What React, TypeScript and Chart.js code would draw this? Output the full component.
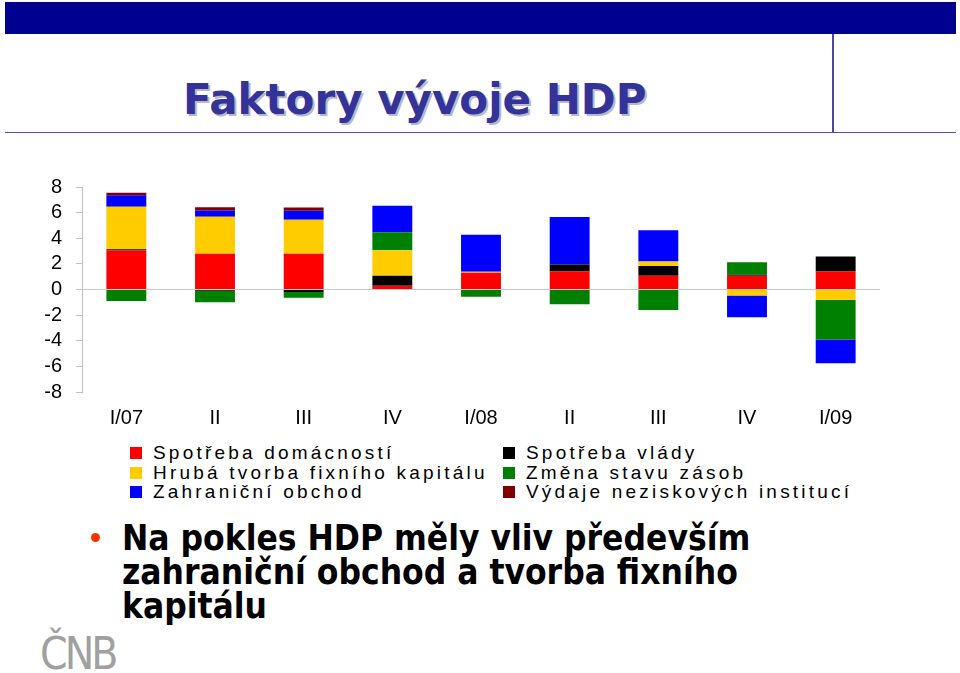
import React, { useEffect, useRef } from "react";
import { Chart, registerables } from "chart.js";

Chart.register(...registerables);

const categories = ["I/07", "II", "III", "IV", "I/08", "II", "III", "IV", "I/09"];
const householdConsumption = [3.05, 2.8, 2.8, 0.3, 1.3, 1.4, 1.07, 1.07, 1.4];
const governmentConsumption = [0.1, -0.1, -0.2, 0.77, 0, 0.56, 0.76, 0.08, 1.17];
const fixedCapital = [3.3, 2.87, 2.65, 2.0, 0.08, 0, 0.36, -0.46, -0.8];
const inventoryChange = [-0.9, -0.9, -0.45, 1.4, -0.56, -1.15, -1.6, 0.97, -3.1];
const foreignTrade = [0.9, 0.5, 0.7, 2.06, 2.9, 3.7, 2.44, -1.7, -1.86];
const nonProfitSpending = [0.2, 0.25, 0.25, 0, 0, 0, 0, 0, 0];

const yMin = -8;
const yMax = 8;
const yStep = 2;

const legendLeft = [
  { label: "Spotřeba domácností", color: "#FF0000" },
  { label: "Hrubá tvorba fixního kapitálu", color: "#FFCC00" },
  { label: "Zahraniční obchod", color: "#0000FF" },
];
const legendRight = [
  { label: "Spotřeba vlády", color: "#000000" },
  { label: "Změna stavu zásob", color: "#008000" },
  { label: "Výdaje neziskových institucí", color: "#800000" },
];

const FONT = "'Liberation Sans', Arial, sans-serif";
const CANVAS_TOP = 161;
const CANVAS_H = 271;

function BarChart() {
  const ref = useRef<HTMLCanvasElement | null>(null);
  useEffect(() => {
    if (!ref.current) return;
    const mk = (label: string, data: number[], color: string) => ({
      label,
      data,
      backgroundColor: color,
      borderWidth: 0,
      barPercentage: 0.45,
      categoryPercentage: 1.0,
    });
    const chart = new Chart(ref.current, {
      type: "bar",
      data: {
        labels: categories,
        datasets: [
          mk("Spotřeba domácností", householdConsumption, "#FF0000"),
          mk("Spotřeba vlády", governmentConsumption, "#000000"),
          mk("Hrubá tvorba fixního kapitálu", fixedCapital, "#FFCC00"),
          mk("Změna stavu zásob", inventoryChange, "#008000"),
          mk("Zahraniční obchod", foreignTrade, "#0000FF"),
          mk("Výdaje neziskových institucí", nonProfitSpending, "#800000"),
        ],
      },
      options: {
        responsive: false,
        animation: false,
        events: [],
        layout: { padding: { top: 11, right: 0, left: 0, bottom: 0 } },
        plugins: { legend: { display: false }, tooltip: { enabled: false }, title: { display: false } },
        scales: {
          x: {
            stacked: true,
            grid: { display: false },
            border: { display: false },
            ticks: { color: "#000", font: { family: FONT, size: 20 }, padding: 6, maxRotation: 0, autoSkip: false },
            afterFit: (s: any) => { s.height = 40; },
          },
          y: {
            stacked: true,
            min: yMin,
            max: yMax,
            ticks: { stepSize: yStep, autoSkip: false, color: "#000", font: { family: FONT, size: 20 }, padding: 14 },
            grid: {
              color: (ctx: any) => (ctx.tick && ctx.tick.value === 0 ? "#c8c8c8" : "rgba(0,0,0,0)"),
              tickColor: "#c0c0c0",
              tickLength: 6,
              lineWidth: 1,
            },
            border: { display: true, color: "#c0c0c0", width: 1 },
            afterFit: (s: any) => { s.width = 82; },
          },
        },
      },
    });
    return () => chart.destroy();
  }, []);
  return (
    <canvas
      ref={ref}
      width={880}
      height={CANVAS_H}
      style={{ position: "absolute", left: 0, top: CANVAS_TOP, width: 880, height: CANVAS_H }}
    />
  );
}

export default function App() {
  const legendRow = (item: { label: string; color: string }, i: number, left: number) => (
    <div
      key={item.label}
      style={{
        position: "absolute",
        left,
        top: 443 + i * 19.5,
        height: 20,
        display: "flex",
        alignItems: "center",
        whiteSpace: "nowrap",
      }}
    >
      <div style={{ width: 12, height: 12, background: item.color, marginRight: 11 }} />
      <span style={{ fontFamily: FONT, fontSize: 19, letterSpacing: 3.2, color: "#000" }}>{item.label}</span>
    </div>
  );
  return (
    <div style={{ position: "absolute", left: 0, top: 0, width: 960, height: 673, background: "#fff", overflow: "hidden" }}>
      <div style={{ position: "absolute", left: 5, top: 2, width: 951, height: 32, background: "#000090" }} />
      <div style={{ position: "absolute", left: 832, top: 34, width: 2, height: 99, background: "#4b4b9b" }} />
      <div style={{ position: "absolute", left: 5, top: 132, width: 951, height: 1, background: "#5050a8" }} />
      <div
        style={{
          position: "absolute",
          left: 183,
          top: 79,
          fontFamily: "'DejaVu Sans', Verdana, sans-serif",
          fontWeight: "bold",
          fontSize: 42,
          lineHeight: "42px",
          color: "#333399",
          textShadow: "2px 2px 0 #b8b8c8",
          whiteSpace: "nowrap",
        }}
      >
        Faktory vývoje HDP
      </div>
      <BarChart />
      {legendLeft.map((it, i) => legendRow(it, i, 130))}
      {legendRight.map((it, i) => legendRow(it, i, 503))}
      <div style={{ position: "absolute", left: 91, top: 533, width: 9, height: 9, borderRadius: "50%", background: "#ff3300" }} />
      <div
        style={{
          position: "absolute",
          left: 122,
          top: 521,
          fontFamily: "'DejaVu Sans Condensed', 'DejaVu Sans', sans-serif",
          fontWeight: "bold",
          fontSize: 35,
          lineHeight: "34px",
          color: "#000",
          whiteSpace: "nowrap",
        }}
      >
        <div>Na pokles HDP měly vliv především</div>
        <div>zahraniční obchod a tvorba fixního</div>
        <div>kapitálu</div>
      </div>
      <div
        style={{
          position: "absolute",
          left: 40,
          top: 630,
          fontFamily: "'DejaVu Sans Condensed', 'DejaVu Sans', sans-serif",
          fontSize: 44,
          lineHeight: "48px",
          color: "#a0a0a0",
          letterSpacing: -3,
          whiteSpace: "nowrap",
        }}
      >
        ČNB
      </div>
    </div>
  );
}
